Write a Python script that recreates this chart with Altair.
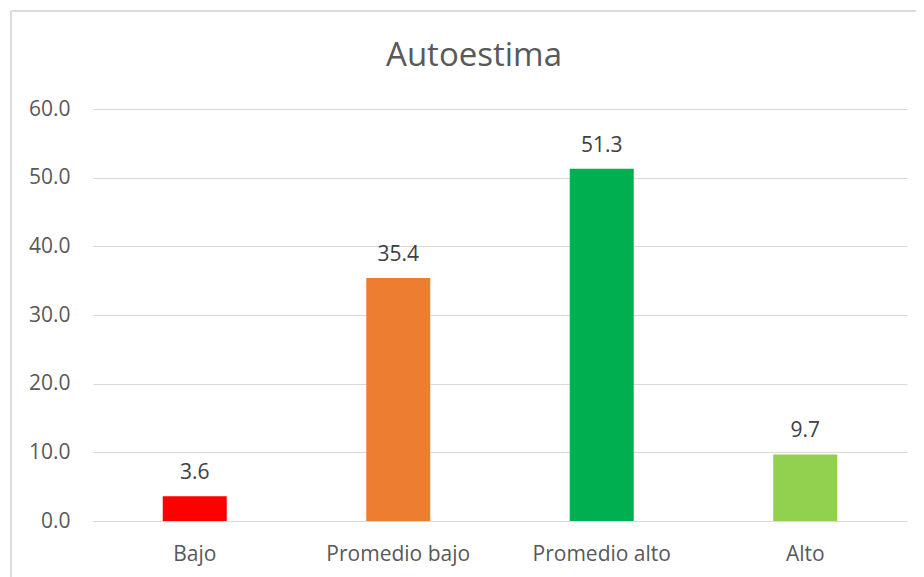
import altair as alt
import pandas as pd

categories = ["Bajo", "Promedio bajo", "Promedio alto", "Alto"]
values = [3.6, 35.4, 51.3, 9.7]
colors = ["#FF0000", "#ED7D31", "#00B050", "#92D050"]

df = pd.DataFrame({"cat": categories, "val": values})

FONT = "Open Sans"
GREY = "#595959"

x_enc = alt.X("cat:N", sort=categories, title=None,
              axis=alt.Axis(labelAngle=0, ticks=False, tickSize=0, domain=False,
                            labelFontSize=21, labelColor=GREY, labelFont=FONT,
                            labelBaseline="alphabetic", labelPadding=39))
y_enc = alt.Y("val:Q", title=None,
              scale=alt.Scale(domain=[0, 60], nice=False),
              axis=alt.Axis(values=[0, 10, 20, 30, 40, 50, 60], format=".1f",
                            ticks=False, domain=False, gridColor="#d9d9d9",
                            labelFontSize=21, labelColor=GREY, labelFont=FONT,
                            labelPadding=23))

bars = alt.Chart(df).mark_bar(size=64).encode(
    x=x_enc, y=y_enc,
    color=alt.Color("cat:N", scale=alt.Scale(domain=categories, range=colors), legend=None),
)

labels = alt.Chart(df).mark_text(dy=-17, baseline="alphabetic", fontSize=21,
                                 font=FONT, color="#404040").encode(
    x=alt.X("cat:N", sort=categories), y="val:Q",
    text=alt.Text("val:Q", format=".1f"),
)

frame = alt.Chart(df).mark_rect(fillOpacity=0, stroke="#d9d9d9", strokeWidth=1).encode(
    x=alt.value(-82), x2=alt.value(900), y=alt.value(-98), y2=alt.value(600),
)

chart = alt.layer(frame, bars, labels).properties(
    width=814, height=412,
    title=alt.TitleParams("Autoestima", fontSize=33, font=FONT, color=GREY,
                          fontWeight="normal", anchor="middle", frame="group",
                          dx=-26, baseline="alphabetic", offset=-88),
    autosize=alt.AutoSizeParams(type="none"),
    padding={"left": 85, "top": 101, "right": 9, "bottom": 56},
).configure_view(stroke=None)

chart.save("out.html", embed_options={"renderer": "svg", "actions": False})
